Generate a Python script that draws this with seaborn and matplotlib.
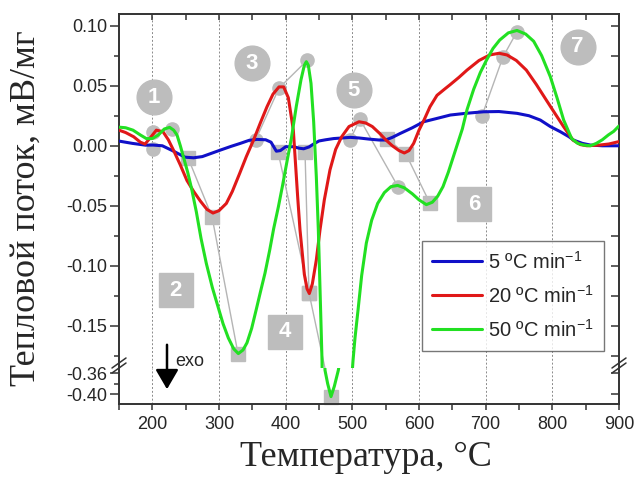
import numpy as np
import pandas as pd
import matplotlib
matplotlib.use("Agg")
import matplotlib.pyplot as plt
import seaborn as sns
from matplotlib.ticker import MultipleLocator, FixedLocator
from matplotlib.lines import Line2D

# ---------------- data ----------------
blue_t = [150, 170, 190, 201, 215, 230, 249, 262, 275, 290, 302, 318, 332, 345, 357, 370, 378,
          386, 392, 400, 412, 420, 427, 435, 442, 450, 460, 472, 485, 497, 510, 526, 540, 550,
          560, 572, 590, 607, 625, 647, 670, 697, 720, 747, 765, 782, 797, 812, 825, 832, 845,
          857, 875, 900]
blue_v = [0.0039, 0.002, 0.0005, 0.0006, 0.0, -0.004, -0.0095, -0.010, -0.009, -0.006, -0.0036,
          -0.0005, 0.002, 0.0045, 0.0053, 0.005, 0.003, -0.0045, -0.004, -0.0008, -0.0008, -0.002,
          -0.0025, -0.001, 0.0015, 0.004, 0.005, 0.006, 0.0065, 0.007, 0.0065, 0.0055, 0.0048,
          0.0048, 0.007, 0.0103, 0.015, 0.020, 0.0225, 0.0256, 0.027, 0.0283, 0.0285, 0.027,
          0.025, 0.0214, 0.016, 0.0117, 0.0075, 0.0047, 0.002, 0.0006, 0.0, 0.0]

red_t = [150, 160, 172, 182, 189, 196, 206, 216, 224, 232, 242, 252, 262, 272, 282, 291, 300,
         311, 320, 331, 341, 352, 362, 372, 381, 390, 397, 404, 411.5, 418, 421.5, 428, 432,
         435.5, 440, 446, 451.5, 458, 466.5, 475, 484, 495, 510, 520, 530, 541, 550, 560, 570,
         578, 585, 592, 600, 608, 616.5, 627, 638, 647, 660, 672, 690, 706, 720, 732, 746, 761,
         776, 791, 805, 817, 831, 842, 852, 871, 885, 900]
red_v = [0.013, 0.011, 0.0075, 0.003, 0.0014, 0.006, 0.013, 0.0117, 0.005, -0.004, -0.016,
         -0.029, -0.038, -0.046, -0.053, -0.056, -0.054, -0.048, -0.038, -0.023, -0.009, 0.005,
         0.019, 0.0325, 0.043, 0.049, 0.049, 0.040, 0.013, -0.0425, -0.070, -0.107, -0.119,
         -0.123, -0.115, -0.095, -0.070, -0.045, -0.020, -0.003, 0.0075, 0.016, 0.020, 0.019,
         0.016, 0.0103, 0.005, 0.0, -0.004, -0.006, -0.004, 0.002, 0.013, 0.022, 0.0325, 0.042,
         0.047, 0.051, 0.057, 0.063, 0.071, 0.0756, 0.077, 0.0756, 0.071, 0.063, 0.051, 0.038,
         0.026, 0.0158, 0.0047, 0.001, 0.0, 0.0006, 0.0015, 0.0035]

green_t = [150, 160, 171, 182, 191, 200, 209, 218, 226, 232, 237, 242, 247, 253, 259, 266, 273,
           281, 290, 298, 306, 314, 322, 329, 336, 342, 349, 356, 362, 369, 376, 382, 389, 395,
           402, 408.5, 416, 423, 428, 431, 434, 438, 442, 446, 449, 451, 454.5, 459, 463, 468,
           473, 479, 501, 504, 508.5, 514, 521, 529, 538, 548, 558, 568, 578, 590, 600, 611, 620,
           628, 636, 644, 651, 658, 665, 672, 682, 692, 701, 711, 721, 734, 747, 760, 772, 784,
           797, 807, 817, 829, 838, 847, 857, 866, 875, 884, 892, 900]
green_v = [0.0155, 0.015, 0.013, 0.009, 0.006, 0.006, 0.009, 0.014, 0.0153, 0.013, 0.009, 0.0,
           -0.010, -0.022, -0.036, -0.055, -0.077, -0.098, -0.118, -0.133, -0.148, -0.160,
           -0.169, -0.173, -0.170, -0.164, -0.152, -0.136, -0.122, -0.106, -0.087, -0.069,
           -0.051, -0.034, -0.013, 0.006, 0.033, 0.055, 0.067, 0.070, 0.067, 0.052, 0.020,
           -0.026, -0.070, -0.109, -0.178, -0.354, -0.380, -0.405, -0.385, -0.354, -0.179,
           -0.160, -0.137, -0.108, -0.081, -0.062, -0.048, -0.039, -0.034, -0.033, -0.035,
           -0.040, -0.045, -0.049, -0.047, -0.042, -0.034, -0.022, -0.010, 0.002, 0.014, 0.030,
           0.047, 0.061, 0.071, 0.081, 0.088, 0.094, 0.096, 0.093, 0.087, 0.075, 0.0575, 0.040,
           0.0214, 0.006, 0.002, 0.0006, 0.0, 0.002, 0.005, 0.009, 0.012, 0.0165]

series_labels = ["5 ºC min$^{-1}$", "20 ºC min$^{-1}$", "50 ºC min$^{-1}$"]
series_colors = ["#1010c8", "#e01818", "#22e022"]

# peak-shift tracks (gray markers joined by thin lines)
circ_tracks = [
    ([201, 229], [0.0114, 0.0139]),
    ([201], [-0.003]),
    ([355, 390, 432], [0.005, 0.048, 0.071]),
    ([496.5, 511.5, 568.5], [0.005, 0.022, -0.034]),
    ([694.5, 726, 747], [0.025, 0.074, 0.095]),
]
sq_tracks = [
    ([253.5, 289.5, 328.5], [-0.010, -0.059, -0.173]),
    ([429, 435], [-0.005, -0.1225]),
    ([388.5, 435], [-0.005, -0.1225]),
    ([552, 580.5, 616.5], [0.006, -0.007, -0.048]),
]
peak4_low = (468, -0.405)   # drawn on the lower (broken) axis

circ_labels = ["1", "3", "5", "7"]
circ_lx = [202.5, 349, 502.5, 838]
circ_ly = [0.0403, 0.0687, 0.0464, 0.0825]
sq_labels = ["2", "4", "6"]
sq_lx = [235, 399, 682.5]
sq_ly = [-0.1203, -0.155, -0.0486]

x_ticks = [200, 300, 400, 500, 600, 700, 800, 900]
y_ticks_top = [-0.15, -0.10, -0.05, 0.00, 0.05, 0.10]
y_ticks_bot = [-0.40, -0.36]

# ---------------- style ----------------
sns.set_style("ticks")
plt.rcParams["font.family"] = ["Liberation Sans", "DejaVu Sans"]
plt.rcParams["axes.unicode_minus"] = False
plt.rcParams["mathtext.default"] = "regular"

GRAY = "#bdbdbd"
SPC = "#333333"

fig = plt.figure(figsize=(6.38, 4.78), dpi=100)
L, R = 119 / 638, 619 / 638
ax = fig.add_axes([L, 1 - 368 / 478, R - L, (368 - 14) / 478])
axb = fig.add_axes([L, 1 - 404 / 478, R - L, (404 - 368) / 478])

for a in (ax, axb):
    a.set_xlim(150, 900)
    a.set_facecolor("white")
    for s in a.spines.values():
        s.set_color(SPC)
        s.set_linewidth(1.4)
    a.xaxis.set_major_locator(FixedLocator(x_ticks))
    a.xaxis.set_minor_locator(MultipleLocator(50))
    a.grid(axis="x", which="major", color="#8a8a8a", lw=0.7, ls=(0, (2, 2)))
    a.set_axisbelow(True)

ax.set_ylim(-0.185, 0.1097)
axb.set_ylim(-0.4193, -0.3497)
ax.spines["bottom"].set_visible(False)
axb.spines["top"].set_visible(False)

# ---------------- peak tracks and labels (beneath curves) ----------------
for xs, ys in circ_tracks:
    ax.plot(xs, ys, color="#b5b5b5", lw=1.0, marker="o", ms=9.5, mfc=GRAY, mec=GRAY, zorder=2)
for xs, ys in sq_tracks:
    ax.plot(xs, ys, color="#b5b5b5", lw=1.0, marker="s", ms=9.5, mfc=GRAY, mec=GRAY, zorder=2)
# segment of peak-4 track crossing the axis break
p_low_disp = axb.transData.transform(peak4_low)
p_low_top = ax.transData.inverted().transform(p_low_disp)
ax.plot([435, p_low_top[0]], [-0.1225, p_low_top[1]], color="#b5b5b5", lw=1.0,
        zorder=2, clip_on=False)
axb.plot([peak4_low[0]], [peak4_low[1]], marker="s", ms=9.5, mfc=GRAY, mec=GRAY,
         zorder=2, clip_on=False)

ax.plot(circ_lx, circ_ly, ls="none", marker="o", ms=25, mfc=GRAY, mec=GRAY, zorder=1.5)
ax.plot(sq_lx, sq_ly, ls="none", marker="s", ms=25, mfc=GRAY, mec=GRAY, zorder=1.5)
for t, x, y in zip(circ_labels + sq_labels, circ_lx + sq_lx, circ_ly + sq_ly):
    ax.text(x, y, t, color="white", fontsize=16, fontweight="bold", ha="center",
            va="center", zorder=1.6)

# ---------------- curves ----------------
df = pd.concat([
    pd.DataFrame({"T": blue_t, "v": blue_v, "s": series_labels[0]}),
    pd.DataFrame({"T": red_t, "v": red_v, "s": series_labels[1]}),
    pd.DataFrame({"T": green_t, "v": green_v, "s": series_labels[2]}),
])
pal = dict(zip(series_labels, series_colors))
for a in (ax, axb):
    sns.lineplot(data=df, x="T", y="v", hue="s", palette=pal, sort=False, estimator=None,
                 lw=2.2, ax=a, legend=False, zorder=3)
    a.set_xlabel("")
    a.set_ylabel("")

# ---------------- ticks ----------------
ax.tick_params(axis="x", which="both", bottom=False, top=True, direction="in",
               labelbottom=False, length=4, width=1.1, color=SPC)
ax.yaxis.set_major_locator(FixedLocator(y_ticks_top))
ax.yaxis.set_minor_locator(MultipleLocator(0.025))
ax.tick_params(axis="y", which="major", left=True, right=False, direction="out",
               length=6.5, width=1.1, labelsize=13, color=SPC, pad=2)
ax.tick_params(axis="y", which="minor", left=True, right=False, direction="out",
               length=3.3, width=1.1, color=SPC)
ax.yaxis.set_major_formatter(matplotlib.ticker.FormatStrFormatter("%.2f"))
sec = ax.secondary_yaxis("right")
sec.yaxis.set_major_locator(MultipleLocator(0.025))
sec.tick_params(axis="y", which="both", direction="in", length=5.5, width=1.1,
                labelright=False, color=SPC)
sec.spines["right"].set_visible(False)

axb.yaxis.set_major_locator(FixedLocator(y_ticks_bot))
axb.yaxis.set_minor_locator(FixedLocator([-0.38]))
axb.yaxis.set_major_formatter(matplotlib.ticker.FormatStrFormatter("%.2f"))
axb.tick_params(axis="y", which="major", left=True, right=False, direction="out",
                length=6.5, width=1.1, labelsize=13, color=SPC, pad=2)
axb.tick_params(axis="y", which="minor", left=True, right=False, direction="out",
                length=3.3, width=1.1, color=SPC)
secb = axb.secondary_yaxis("right")
secb.yaxis.set_major_locator(FixedLocator([-0.40, -0.36]))
secb.tick_params(axis="y", which="both", direction="in", length=5.5, width=1.1,
                 labelright=False, color=SPC)
secb.spines["right"].set_visible(False)
axb.tick_params(axis="x", which="both", bottom=True, top=False, direction="out",
                length=4.5, width=1.1, labelsize=13, color=SPC, pad=4)

# ---------------- axis break marks ----------------
for xc in (119, 619):
    for dy in (0, 5):
        fig.add_artist(Line2D([(xc - 7) / 638, (xc + 7) / 638],
                              [1 - (373 - dy) / 478, 1 - (363 - dy) / 478],
                              color=SPC, lw=1.1))

# ---------------- legend ----------------
handles = [Line2D([], [], color=c, lw=2.2) for c in series_colors]
leg = ax.legend(handles, series_labels, loc="upper left", bbox_to_anchor=(0.605, 0.36),
                fontsize=14.5, frameon=True, fancybox=False, edgecolor="#555555",
                handlelength=2.5, handletextpad=0.3, labelspacing=0.6, borderpad=0.5,
                borderaxespad=0)
leg.get_frame().set_linewidth(1.0)

# ---------------- exo arrow ----------------
fig.add_artist(matplotlib.patches.FancyArrowPatch(
    (167 / 638, 1 - 342 / 478), (167 / 638, 1 - 392 / 478), transform=fig.transFigure,
    arrowstyle="-|>,head_length=0.6,head_width=0.35", mutation_scale=20, color="black", lw=1.8))
fig.text(175 / 638, 1 - 361 / 478, "exo", fontsize=13, ha="left", va="center")

# ---------------- axis labels ----------------
serif = ["Liberation Serif", "DejaVu Serif"]
fig.text(26 / 638, 1 - 208 / 478, "Тепловой поток, мВ/мг", rotation=90, ha="center",
         va="center", fontsize=26, family=serif)
fig.text(366 / 638, 1 - 457 / 478, "Температура, °C", ha="center", va="center",
         fontsize=26, family=serif)

fig.savefig("out.png", dpi=100)
